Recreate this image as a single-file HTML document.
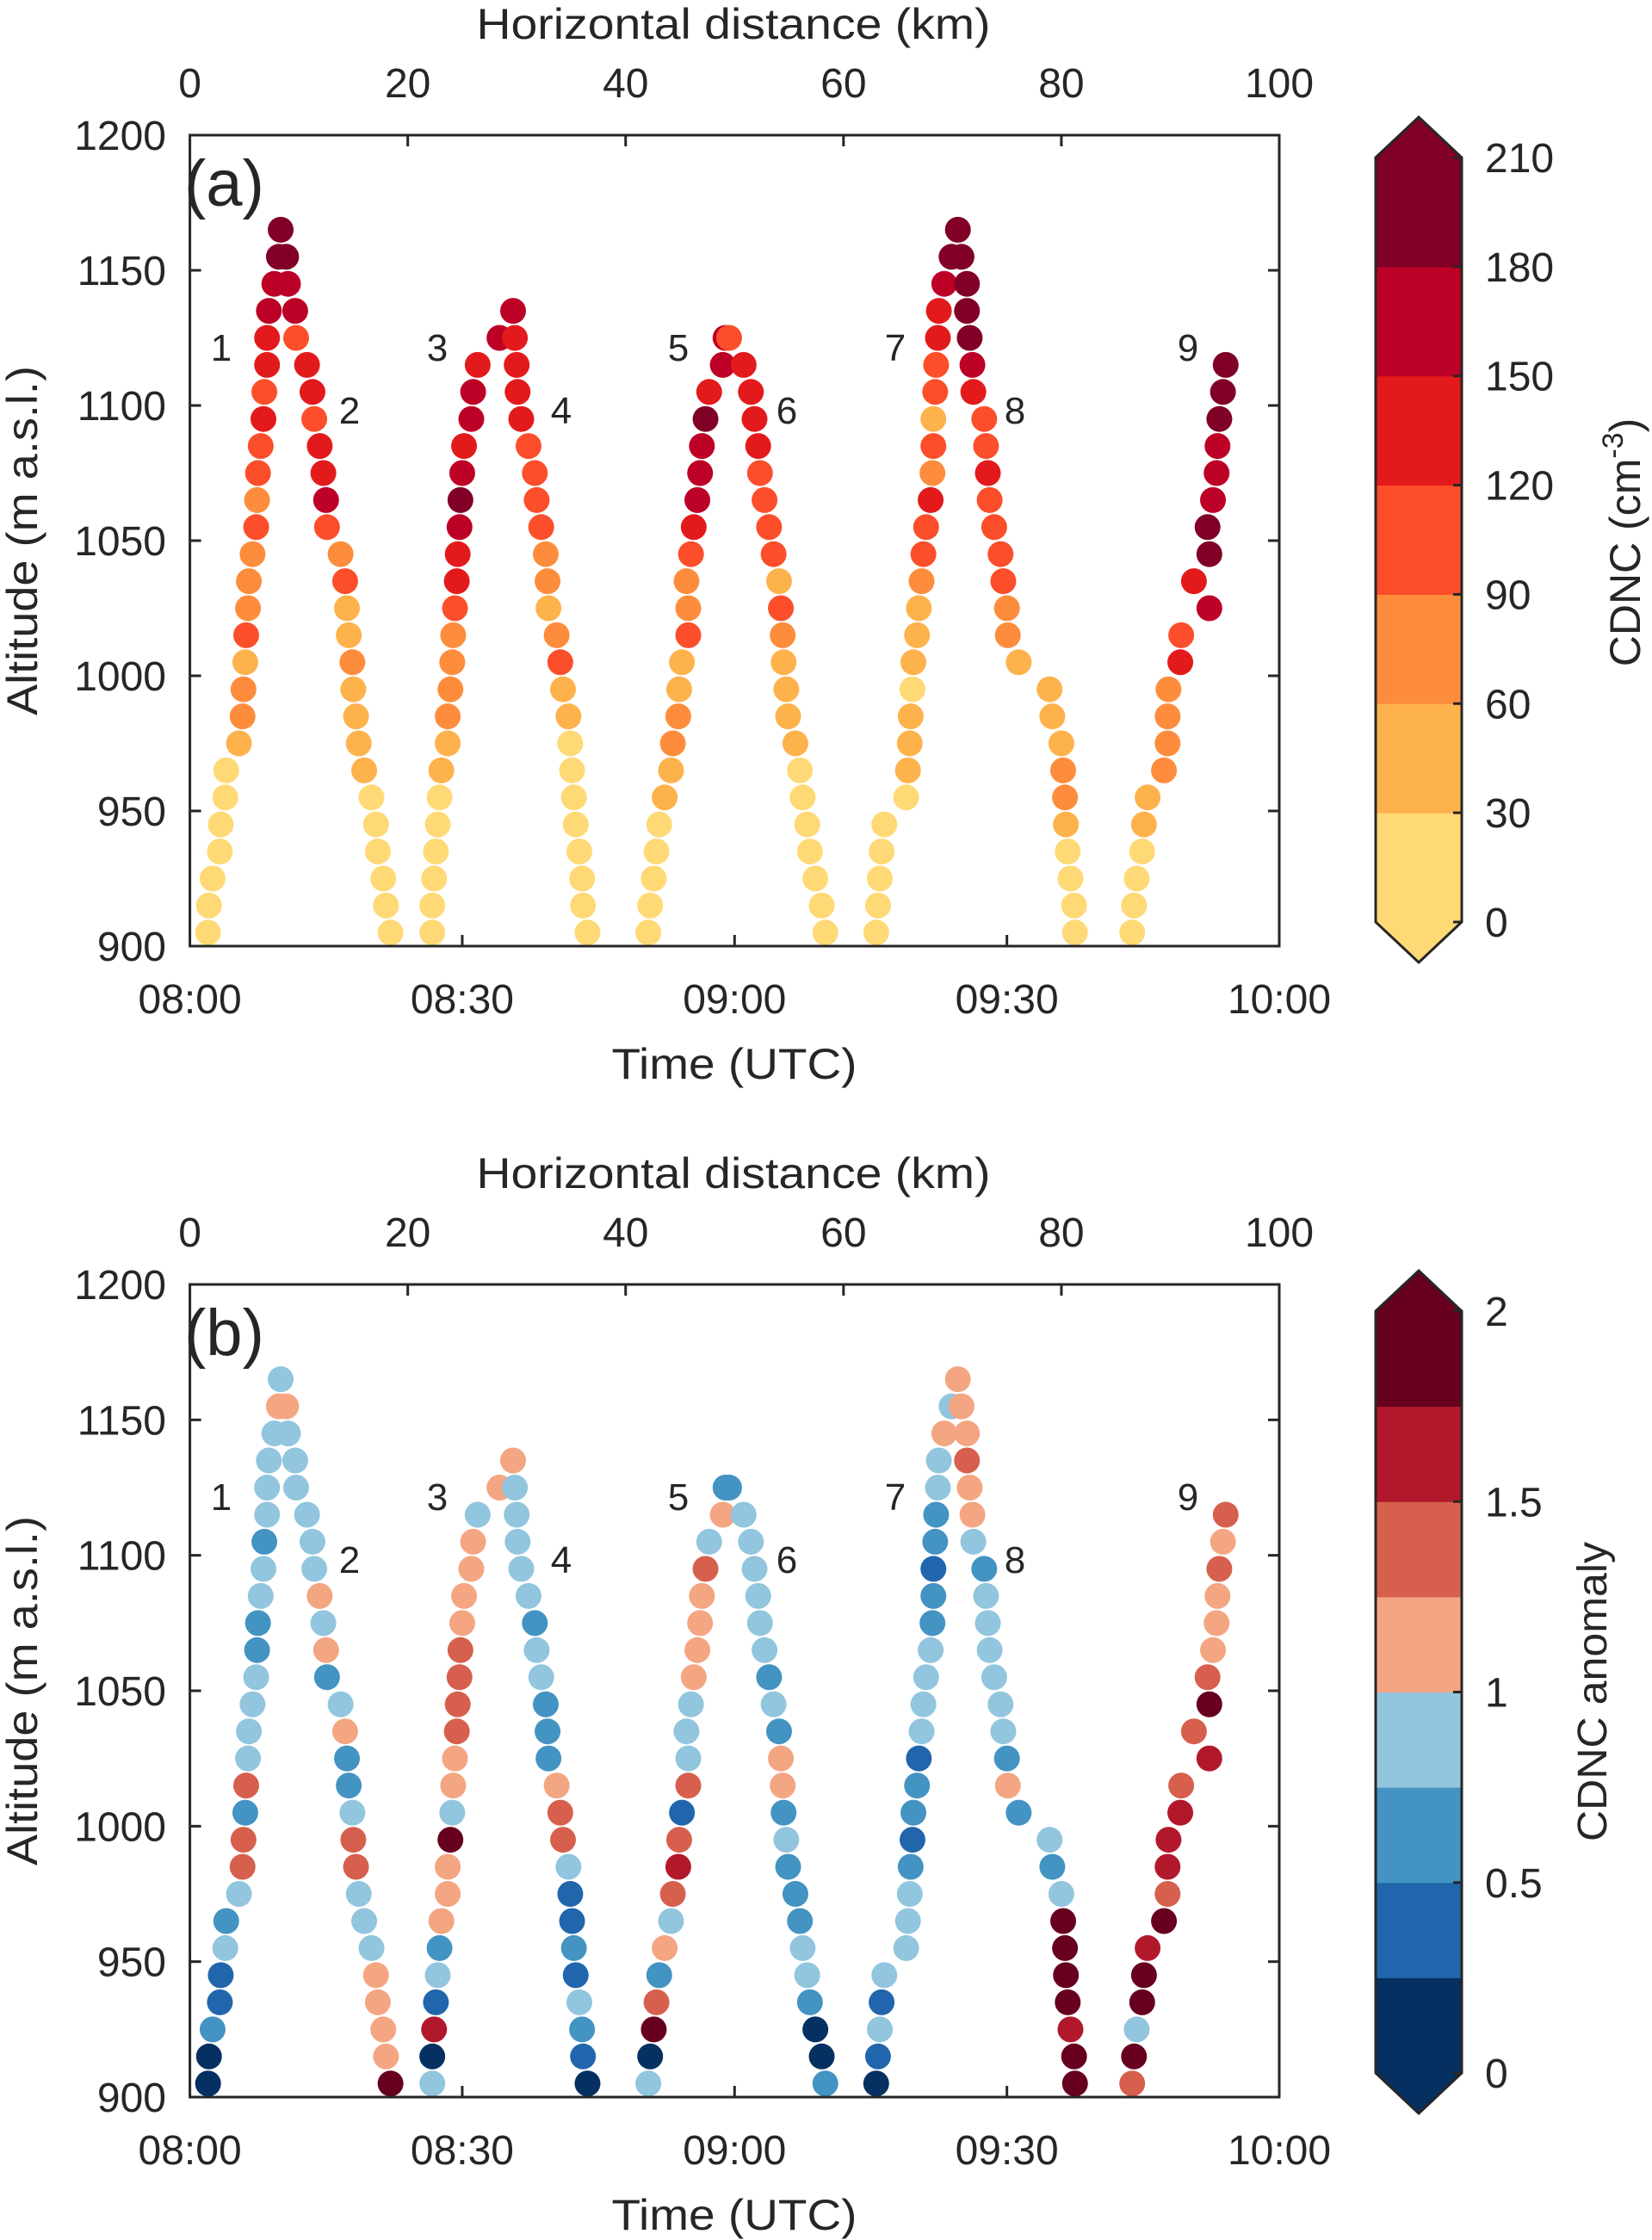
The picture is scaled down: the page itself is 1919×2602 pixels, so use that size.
<!DOCTYPE html>
<html><head><meta charset="utf-8"><style>
html,body{margin:0;padding:0;background:#fff;}
svg{display:block;}
text{font-family:"Liberation Sans",Arial,sans-serif;fill:#262626;}
</style></head><body>
<svg id="chart" width="1919" height="2602" viewBox="0 0 1919 2602" xmlns="http://www.w3.org/2000/svg"></svg>
<script>
// ---- data (time in minutes after 08:00, altitude m, CDNC cm-3, CDNC anomaly) ----
const times = [
 2.0,2.1,2.5,3.3,3.4,3.9,4.0,5.4,5.8,5.9,6.1,6.2,6.4,6.5,6.9,7.3,7.4,7.5,7.8,8.1,8.2,8.5,8.5,8.7,9.3,9.8,10.0,
 10.6,10.8,11.6,11.7,12.9,13.5,13.7,14.3,14.7,15.0,15.1,16.6,17.1,17.3,17.5,17.9,18.0,18.3,18.6,19.2,20.0,20.5,20.7,21.3,21.6,22.1,
 26.7,26.7,26.9,27.1,27.3,27.5,27.7,28.4,28.4,28.7,28.9,29.0,29.2,29.4,29.5,29.7,29.8,30.0,30.2,31.0,31.2,31.7,34.1,35.6,
 35.8,36.0,36.1,36.5,37.3,38.0,38.2,38.7,39.2,39.4,39.5,40.4,40.8,41.1,41.7,41.9,42.1,42.3,42.5,42.9,43.2,43.3,43.8,
 50.5,50.7,51.1,51.4,51.7,52.3,53.0,53.2,53.8,53.9,54.2,54.9,54.9,54.7,55.2,55.5,55.9,56.2,56.4,56.8,57.2,58.7,59.0,59.4,
 61.0,61.8,62.2,62.6,62.8,63.3,63.8,64.3,64.9,65.1,65.3,65.4,65.7,65.9,66.7,67.2,67.5,68.0,68.3,68.9,69.6,70.0,
 75.6,75.8,76.0,76.2,76.5,78.9,79.1,79.3,79.4,79.6,79.7,80.1,80.3,80.6,80.8,81.1,81.6,81.8,81.9,81.9,82.1,82.2,82.4,82.5,83.1,83.9,84.6,
 85.0,85.6,85.6,85.9,86.2,86.3,87.5,87.7,87.9,88.1,88.6,89.3,89.6,90.0,90.1,91.3,94.7,95.0,96.0,96.2,96.4,96.5,96.7,97.0,97.4,97.5,
 103.8,104.0,104.3,104.9,105.1,105.5,107.3,107.7,107.7,107.8,109.1,109.2,112.3,110.6,112.3,112.1,112.7,113.1,113.2,113.4,113.8,114.1
];
const alts = [
 905,915,925,935,945,955,965,975,985,995,1005,1015,1025,1035,1045,1055,1065,1075,1085,1095,1105,1115,1125,1135,1145,1155,1165,
 1155,1145,1135,1125,1115,1105,1095,1085,1075,1065,1055,1045,1035,1025,1015,1005,995,985,975,965,955,945,935,925,915,905,
 905,915,925,935,945,955,965,975,985,995,1005,1015,1025,1035,1045,1055,1065,1075,1085,1095,1105,1115,1125,1135,
 1125,1115,1105,1095,1085,1075,1065,1055,1045,1035,1025,1015,1005,995,985,975,965,955,945,935,925,915,905,
 905,915,925,935,945,955,965,975,985,995,1005,1015,1025,1035,1045,1055,1065,1075,1085,1095,1105,1115,1125,1125,
 1115,1105,1095,1085,1075,1065,1055,1045,1035,1025,1015,1005,995,985,975,965,955,945,935,925,915,905,
 905,915,925,935,945,955,965,975,985,995,1005,1015,1025,1035,1045,1055,1065,1075,1085,1095,1105,1115,1125,1135,1145,1155,1165,
 1155,1145,1135,1125,1115,1105,1095,1085,1075,1065,1055,1045,1035,1025,1015,1005,995,985,975,965,955,945,935,925,915,905,
 905,915,925,935,945,955,965,975,985,995,1005,1015,1025,1035,1045,1055,1065,1075,1085,1095,1105,1115
];
const cdnc = [
 15,15,15,15,15,15,15,45,75,75,45,105,75,75,75,105,75,105,105,135,105,135,135,165,165,195,195,
 195,165,165,105,135,135,105,135,135,165,105,75,105,45,45,75,45,45,45,45,15,15,15,15,15,15,
 15,15,15,15,15,15,45,45,75,75,75,75,105,135,135,165,195,165,135,165,165,135,165,165,
 135,135,135,135,105,105,105,105,75,75,45,75,105,45,45,15,15,15,15,15,15,15,15,
 15,15,15,15,15,45,45,75,75,45,45,105,75,75,105,135,165,165,165,195,135,165,165,105,
 135,135,135,135,105,105,105,105,45,105,75,45,45,45,45,15,15,15,15,15,15,15,
 15,15,15,15,15,15,45,45,45,15,45,45,45,75,105,105,135,75,105,45,105,105,135,135,165,195,195,
 195,195,195,195,165,135,105,105,135,105,105,105,105,75,75,45,45,45,45,75,75,45,15,15,15,15,
 15,15,15,15,45,45,75,75,75,75,135,105,165,135,195,195,165,165,165,195,195,195
];
const anom = [
 0.12,0.12,0.62,0.38,0.38,0.88,0.62,0.88,1.38,1.38,0.62,1.38,0.88,0.88,0.88,0.88,0.62,0.62,0.88,0.88,0.62,0.88,0.88,0.88,0.88,1.12,0.88,
 1.12,0.88,0.88,0.88,0.88,0.88,0.88,1.12,0.88,1.12,0.62,0.88,1.12,0.62,0.62,0.88,1.38,1.38,0.88,0.88,0.88,1.12,1.12,1.12,1.12,1.88,
 0.88,0.12,1.62,0.38,0.88,0.62,1.12,1.12,1.12,1.88,0.88,1.12,1.12,1.38,1.38,1.38,1.38,1.12,1.12,1.12,1.12,0.88,1.12,1.12,
 0.88,0.88,0.88,0.88,0.88,0.62,0.88,0.88,0.62,0.62,0.62,1.12,1.38,1.38,0.88,0.38,0.38,0.62,0.38,0.88,0.62,0.38,0.12,
 0.88,0.12,1.88,1.38,0.62,1.12,0.88,1.38,1.62,1.38,0.38,1.38,0.88,0.88,0.88,1.12,1.12,1.12,1.12,1.38,0.88,1.12,0.62,0.62,
 0.88,0.88,0.88,0.88,0.88,0.88,0.62,0.88,0.62,1.12,1.12,0.62,0.88,0.62,0.62,0.62,0.88,0.88,0.62,0.12,0.12,0.62,
 0.12,0.38,0.88,0.38,0.88,0.88,0.88,0.88,0.62,0.38,0.62,0.62,0.38,0.88,0.88,0.88,0.88,0.62,0.62,0.38,0.62,0.62,0.88,0.88,1.12,0.88,1.12,
 1.12,1.12,1.38,1.12,1.12,0.88,0.62,0.88,0.88,0.88,0.88,0.88,0.88,0.62,1.12,0.62,0.88,0.62,0.88,1.88,1.88,1.88,1.88,1.62,1.88,1.88,
 1.38,1.88,0.88,1.88,1.88,1.62,1.88,1.38,1.62,1.62,1.62,1.38,1.62,1.38,1.88,1.38,1.12,1.12,1.12,1.38,1.12,1.38
];
const timeTicks = ["08:00","08:30","09:00","09:30","10:00"];
const timeTickVals = [0,30,60,90,120];
const kmTicks = [0,20,40,60,80,100];
const altTicks = [900,950,1000,1050,1100,1150,1200];
const cdncLevels = [0,30,60,90,120,150,180,210];
const cdncColors = ["#fed976","#feb24c","#fd8d3c","#fc4e2a","#e31a1c","#bd0026","#800026"];
const anomLevels = [0,0.25,0.5,0.75,1,1.25,1.5,1.75,2];
const anomTickVals = [0,0.5,1,1.5,2];
const anomTickLabels = ["0","0.5","1","1.5","2"];
const anomColors = ["#053061","#2166ac","#4393c3","#92c5de","#f4a582","#d6604d","#b2182b","#67001f"];
const profileLabels = ["1","2","3","4","5","6","7","8","9"];
const profileLabelT = [14.0,66.8,31.8,47.4,64.7,64.7,76.3,56.5,99.0];

const NS="http://www.w3.org/2000/svg";
const svg=document.getElementById('chart');
function mk(tag,attrs,parent,txt){const e=document.createElementNS(NS,tag);for(const k in attrs)e.setAttribute(k,attrs[k]);if(txt!==undefined)e.textContent=txt;(parent||svg).appendChild(e);return e;}

const X0=220.6,X1=1486;
function xT(t){return X0+t/120*(X1-X0);}
function xKm(k){return X0+k/100*(X1-X0);}
function binIdx(v,levels){for(let i=0;i<levels.length-1;i++){if(v<levels[i+1])return i;}return levels.length-2;}

const labelXs=[257,406,508,652,788,914,1040,1179,1380];
const labelYs=[403,476,403,476,403,476,403,476,403];

function panel(cfg){
  const top=cfg.top,bot=cfg.bot;
  function yA(a){return top+(1200-a)/300*(bot-top);}
  const g=mk('g',{});
  
  
  // top title
  const tt=mk('text',{x:852,y:top-112,'font-size':50,'text-anchor':'middle',textLength:597,lengthAdjust:'spacingAndGlyphs'},g,'Horizontal distance (km)');
  
  
  // km ticks
  kmTicks.forEach(k=>{
    const t=mk('text',{x:xKm(k),y:top-44,'font-size':48,'text-anchor':'middle'},g,String(k));
    
    
    if(k>0&&k<100)mk('line',{x1:xKm(k),x2:xKm(k),y1:top,y2:top+13,stroke:'#262626','stroke-width':3},g);
  });
  // time ticks
  timeTickVals.forEach((v,i)=>{
    const t=mk('text',{x:xT(v),y:bot+78,'font-size':48,'text-anchor':'middle'},g,timeTicks[i]);
    
    
    if(v>0&&v<120)mk('line',{x1:xT(v),x2:xT(v),y1:bot,y2:bot-13,stroke:'#262626','stroke-width':3},g);
  });
  const xl=mk('text',{x:853,y:bot+154,'font-size':50,'text-anchor':'middle',textLength:285,lengthAdjust:'spacingAndGlyphs'},g,'Time (UTC)');
  
  
  // alt ticks
  altTicks.forEach(a=>{
    const t=mk('text',{x:193,y:yA(a)+17,'font-size':48,'text-anchor':'end'},g,String(a));
    
    
    if(a>900&&a<1200){mk('line',{x1:X0,x2:X0+13,y1:yA(a),y2:yA(a),stroke:'#262626','stroke-width':3},g);
      mk('line',{x1:X1,x2:X1-13,y1:yA(a),y2:yA(a),stroke:'#262626','stroke-width':3},g);}
  });
  const cy=(top+bot)/2;
  const yl=mk('text',{x:43,y:cy,'font-size':50,'text-anchor':'middle',transform:`rotate(-90 43 ${cy})`,textLength:406,lengthAdjust:'spacingAndGlyphs'},g,'Altitude (m a.s.l.)');
  
  
  // points
  const pg=mk('g',{},g);
  
  
  for(let i=0;i<times.length;i++){
    const v=cfg.values[i];
    const c=mk('ellipse',{cx:xT(times[i]),cy:yA(alts[i]),rx:15,ry:15,fill:cfg.colors[binIdx(v,cfg.levels)]},pg);
    
    
  }
  // frame
  const fr=mk('rect',{x:X0,y:top,width:X1-X0,height:bot-top,fill:'none',stroke:'#262626','stroke-width':3},g);
  
  
  // panel label
  const pl=mk('text',{x:214,y:top+82,'font-size':76},g,cfg.letter);
  
  
  profileLabels.forEach((s,i)=>{
    const t=mk('text',{x:labelXs[i],y:labelYs[i]-157+top+16,'font-size':44,'text-anchor':'middle'},g,s);
    
    
  });
  // colorbar
  const cb=mk('g',{},g);
  
  
  const L=1598,R=1698,M=(L+R)/2,ct=cfg.cbTop,cbb=cfg.cbBot,lv=cfg.levels,n=lv.length-1;
  const lo=lv[0],hi=lv[n];
  function yC(v){return cbb-(v-lo)/(hi-lo)*(cbb-ct);}
  for(let i=0;i<n;i++){
    mk('rect',{x:L,y:yC(lv[i+1]),width:R-L,height:yC(lv[i])-yC(lv[i+1])+0.5,fill:cfg.colors[i]},cb);
  }
  mk('polygon',{points:`${L},${ct} ${M},${ct-47} ${R},${ct}`,fill:cfg.colors[n-1]},cb);
  mk('polygon',{points:`${L},${cbb} ${M},${cbb+47} ${R},${cbb}`,fill:cfg.colors[0]},cb);
  mk('polygon',{points:`${L},${ct} ${M},${ct-47} ${R},${ct} ${R},${cbb} ${M},${cbb+47} ${L},${cbb}`,fill:'none',stroke:'#262626','stroke-width':3},cb);
  cfg.tickVals.forEach((v,i)=>{
    mk('line',{x1:R,x2:R-10,y1:yC(v),y2:yC(v),stroke:'#262626','stroke-width':3},cb);
    const t=mk('text',{x:1725,y:yC(v)+17,'font-size':48},cb,cfg.tickLabels[i]);
    
    
  });
  return {g,cb,yC};
}

panel({name:'panel-a',letter:'(a)',top:157,bot:1099,values:cdnc,levels:cdncLevels,colors:cdncColors,
  cbTop:183,cbBot:1071,tickVals:cdncLevels,tickLabels:cdncLevels.map(String)});
panel({name:'panel-b',letter:'(b)',top:1492,bot:2436,values:anom,levels:anomLevels,colors:anomColors,
  cbTop:1523,cbBot:2408,tickVals:anomTickVals,tickLabels:anomTickLabels});

// colorbar titles
const ca=mk('text',{x:1905,y:630,'font-size':50,'text-anchor':'middle',transform:'rotate(-90 1905 630)'});


ca.appendChild(document.createTextNode('CDNC (cm'));
const sup=mk('tspan',{dy:-20,'font-size':34},ca,'-3');
const cl=mk('tspan',{dy:20},ca,')');
const cbt=mk('text',{x:1866,y:1965,'font-size':48,'text-anchor':'middle',transform:'rotate(-90 1866 1965)',textLength:348,lengthAdjust:'spacingAndGlyphs'},svg,'CDNC anomaly');


</script>
</body></html>
